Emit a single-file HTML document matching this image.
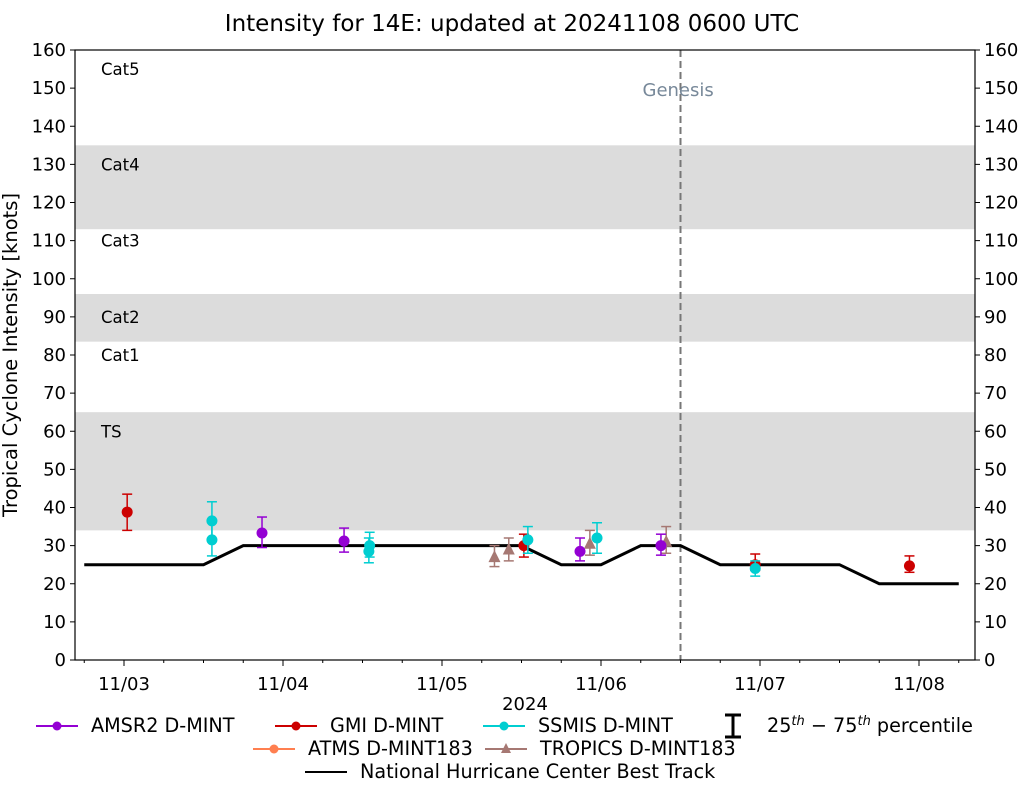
<!DOCTYPE html>
<html><head><meta charset="utf-8"><style>
body{margin:0;background:#fff;font-family:"Liberation Sans","DejaVu Sans",sans-serif}
svg text{font-family:"DejaVu Sans","Liberation Sans",sans-serif}
</style></head><body>
<svg id="c" width="1025" height="785"></svg>
<script>
const bestTrackDays=[2.75,3,3.25,3.5,3.75,4,4.25,4.5,4.75,5,5.25,5.5,5.75,6,6.25,6.5,6.75,7,7.25,7.5,7.75,8,8.25];
const bestTrackKts=[25,25,25,25,30,30,30,30,30,30,30,30,25,25,30,30,25,25,25,25,20,20,20];
const amsr2Days=[3.868,4.384,5.868,6.377];
const amsr2Kts=[33.3,31.2,28.5,30];
const amsr2Lo=[29.5,28.3,26,27.5];
const amsr2Hi=[37.5,34.6,32,33];
const gmiDays=[3.02,5.515,6.97,7.94];
const gmiKts=[38.8,30,25,24.7];
const gmiLo=[34,27,23.5,23];
const gmiHi=[43.5,33,27.8,27.3];
const ssmisDays=[3.553,3.553,4.54,4.545,5.54,5.975,6.97];
const ssmisKts=[36.5,31.5,28.5,30,31.5,32,24];
const ssmisLo=[31.5,27.3,25.5,27,28,28,22];
const ssmisHi=[41.5,36,32,33.5,35,36,26];
const tropicsDays=[5.33,5.42,5.93,6.41];
const tropicsKts=[27,29,30.5,31];
const tropicsLo=[24.5,26,27.5,28];
const tropicsHi=[30,32,34,35];
const bands=[[34,65],[83.5,96],[113,135]];
const catLabels=[["Cat5",155],["Cat4",130],["Cat3",110],["Cat2",90],["Cat1",80],["TS",60]];
const yTicks=[0,10,20,30,40,50,60,70,80,90,100,110,120,130,140,150,160];
const xTickDays=[3,4,5,6,7,8];
const xTickLabels=["11/03","11/04","11/05","11/06","11/07","11/08"];
const genesisDay=6.5;

const NS="http://www.w3.org/2000/svg",svg=document.getElementById('c');
const X0=75,X1=975,Y0=50,Y1=660;
const xs=d=>124+159*(d-3), ys=v=>Y1-(Y1-Y0)*v/160;
function mk(t,a,p){const e=document.createElementNS(NS,t);for(const k in a)e.setAttribute(k,a[k]);(p||svg).appendChild(e);return e;}
function tx(s,x,y,a){const e=mk('text',Object.assign({x:x,y:y,'font-size':18,fill:'#000'},a||{}));e.textContent=s;return e;}
bands.forEach(b=>{const r=mk('rect',{x:X0,y:ys(b[1]),width:X1-X0,height:ys(b[0])-ys(b[1]),fill:'#dcdcdc'});

});
catLabels.forEach(c=>{const t=tx(c[0],101,ys(c[1])+6,{'font-size':16.5});

});
const gl=mk('line',{x1:xs(genesisDay),x2:xs(genesisDay),y1:Y0,y2:Y1,stroke:'#777','stroke-width':2,'stroke-dasharray':'7,4'});


const gt=tx('Genesis',xs(genesisDay)-38,96,{fill:'#778899'});


const bt=mk('polyline',{points:bestTrackDays.map((d,i)=>xs(d)+','+ys(bestTrackKts[i])).join(' '),fill:'none',stroke:'#000','stroke-width':3});


function series(name,days,kts,lo,hi,col,tri){
 days.forEach((d,i)=>{const x=xs(d);const g=mk('g',{});
  
  
  mk('line',{x1:x,x2:x,y1:ys(lo[i]),y2:ys(hi[i]),stroke:col,'stroke-width':1.5},g);
  [lo[i],hi[i]].forEach(v=>mk('line',{x1:x-5,x2:x+5,y1:ys(v),y2:ys(v),stroke:col,'stroke-width':1.5},g));
  const y=ys(kts[i]);
  if(tri)mk('polygon',{points:`${x},${y-7} ${x-6},${y+5} ${x+6},${y+5}`,fill:col},g);
  else mk('circle',{cx:x,cy:y,r:5.5,fill:col},g);});
}
series('gmi',gmiDays,gmiKts,gmiLo,gmiHi,'#cc0000');
series('tropics',tropicsDays,tropicsKts,tropicsLo,tropicsHi,'#a67873',true);
series('amsr2',amsr2Days,amsr2Kts,amsr2Lo,amsr2Hi,'#9400d3');
series('ssmis',ssmisDays,ssmisKts,ssmisLo,ssmisHi,'#00ced1');
const fr=mk('rect',{x:X0,y:Y0,width:X1-X0,height:Y1-Y0,fill:'none',stroke:'#000','stroke-width':1.2});


yTicks.forEach(v=>{const y=ys(v);
 mk('line',{x1:X0-5,x2:X0,y1:y,y2:y,stroke:'#000'});mk('line',{x1:X1,x2:X1+5,y1:y,y2:y,stroke:'#000'});
 const a=tx(String(v),X0-9,y+6,{'text-anchor':'end'});
 
 
 const b=tx(String(v),X1+9,y+6);
 
 });
xTickDays.forEach((d,i)=>{const x=xs(d);mk('line',{x1:x,x2:x,y1:Y1,y2:Y1+6,stroke:'#000'});
 const t=tx(xTickLabels[i],x,Y1+30,{'text-anchor':'middle'});
 
 });
for(let d=2.75;d<=8.3;d+=0.25){if(Math.abs(d-Math.round(d))>0.01){const x=xs(d);if(x>X0&&x<X1)mk('line',{x1:x,x2:x,y1:Y1,y2:Y1+3,stroke:'#000'});}}
const xt=tx('2024',525,710,{'text-anchor':'middle'});
const yt=tx('Tropical Cyclone Intensity [knots]',0,0,{'text-anchor':'middle','font-size':19.5,transform:'translate(17,355) rotate(-90)'});

const ti=tx('Intensity for 14E: updated at 20241108 0600 UTC',512,31,{'text-anchor':'middle','font-size':23});

function leg(label,x,y,col,shape){const g=mk('g',{});
 
 
 mk('line',{x1:x,x2:x+42,y1:y,y2:y,stroke:col,'stroke-width':2},g);
 if(shape==='c')mk('circle',{cx:x+21,cy:y,r:4.5,fill:col},g);
 if(shape==='t')mk('polygon',{points:`${x+21},${y-6} ${x+16},${y+4} ${x+26},${y+4}`,fill:col},g);
 const t=mk('text',{x:x+55,y:y+6,'font-size':19.2,fill:'#000'},g);t.textContent=label;}
leg('AMSR2 D-MINT',36,726,'#9400d3','c');
leg('GMI D-MINT',275,726,'#cc0000','c');
leg('SSMIS D-MINT',483,726,'#00ced1','c');
leg('ATMS D-MINT183',253,749,'#ff7f50','c');
leg('TROPICS D-MINT183',485,749,'#a67873','t');
leg('National Hurricane Center Best Track',305,772,'#000','');
const pg=mk('g',{});
mk('line',{x1:733,x2:733,y1:715,y2:737,stroke:'#000','stroke-width':3},pg);
mk('line',{x1:725,x2:741,y1:715,y2:715,stroke:'#000','stroke-width':3},pg);
mk('line',{x1:725,x2:741,y1:737,y2:737,stroke:'#000','stroke-width':3},pg);
const pt=mk('text',{x:767,y:732,'font-size':19.2},pg);
pt.innerHTML='25<tspan dy="-7" font-size="13" font-style="italic">th</tspan><tspan dy="7"> − 75</tspan><tspan dy="-7" font-size="13" font-style="italic">th</tspan><tspan dy="7"> percentile</tspan>';
</script></body></html>
